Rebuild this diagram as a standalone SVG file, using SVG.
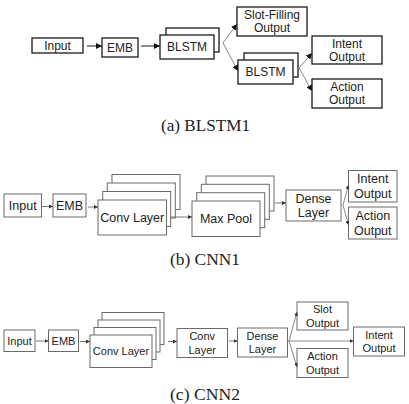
<svg xmlns="http://www.w3.org/2000/svg" width="409" height="404" viewBox="0 0 409 404">
<defs>
<style>
.ba{fill:#fff;stroke:#1a1a1a;stroke-width:1.3}
.bb{fill:#fff;stroke:#6a6a6a;stroke-width:1}
.ta{font-family:"Liberation Sans",Arial,sans-serif;font-size:12px;fill:#222;text-anchor:middle}
.tb{font-family:"Liberation Sans",Arial,sans-serif;font-size:12.5px;fill:#222;text-anchor:middle}
.tc{font-family:"Liberation Sans",Arial,sans-serif;font-size:11px;fill:#222;text-anchor:middle}
.cap{font-family:"Liberation Serif","Times New Roman",serif;font-size:16px;fill:#222;text-anchor:middle}
.la{fill:none;stroke:#1a1a1a;stroke-width:1}
.lg{fill:none;stroke:#888;stroke-width:1}
.lb{fill:none;stroke:#555;stroke-width:0.8}
</style>
<marker id="ah" viewBox="0 0 10 10" refX="10" refY="5" markerWidth="6" markerHeight="6" markerUnits="userSpaceOnUse" orient="auto">
<path d="M0,0 L10,5 L0,10 z" fill="#111"/>
</marker>
<marker id="as" viewBox="0 0 10 10" refX="10" refY="5" markerWidth="4" markerHeight="4" markerUnits="userSpaceOnUse" orient="auto">
<path d="M0,0 L10,5 L0,10 z" fill="#333"/>
</marker>
</defs>

<!-- (a) BLSTM1 -->
<g id="a-input"><rect class="ba" x="32" y="38" width="51" height="15"/><text class="ta" x="57.5" y="49.7">Input</text></g>
<g id="a-emb"><rect class="ba" x="102" y="38" width="36" height="19"/><text class="ta" x="120" y="51.7">EMB</text></g>
<g id="a-blstm1"><rect class="ba" x="166" y="28" width="53" height="24"/><rect class="ba" x="160" y="35" width="54" height="24"/><text class="ta" x="187" y="51.3">BLSTM</text></g>
<g id="a-slot"><rect class="ba" x="237" y="7" width="70" height="29"/><text class="ta" x="272" y="19">Slot-Filling</text><text class="ta" x="272" y="32.3">Output</text></g>
<g id="a-blstm2"><rect class="ba" x="244" y="53" width="54" height="24"/><rect class="ba" x="238" y="60" width="55" height="24"/><text class="ta" x="265.5" y="76.3">BLSTM</text></g>
<g id="a-intent"><rect class="ba" x="312" y="36" width="70" height="28"/><text class="ta" x="347" y="47.7">Intent</text><text class="ta" x="347" y="61">Output</text></g>
<g id="a-action"><rect class="ba" x="312" y="79" width="70" height="29"/><text class="ta" x="347" y="90.7">Action</text><text class="ta" x="347" y="104">Output</text></g>
<g id="a-connectors">
<path class="la" d="M87,46 H102" marker-end="url(#ah)"/>
<path class="la" d="M141,46 H160" marker-end="url(#ah)"/>
<path class="lg" d="M223,43 L237,24" marker-end="url(#ah)"/>
<path class="lg" d="M223,43 L238,71" marker-end="url(#ah)"/>
<path class="lg" d="M299,68 L312,53" marker-end="url(#ah)"/>
<path class="lg" d="M299,68 L312,91" marker-end="url(#ah)"/>
</g>
<text class="cap" x="205.5" y="131" textLength="89" lengthAdjust="spacingAndGlyphs">(a) BLSTM1</text>

<!-- (b) CNN1 -->
<g id="b-input"><rect class="bb" x="4" y="194" width="37.5" height="23"/><text class="tb" x="22.75" y="210">Input</text></g>
<g id="b-emb"><rect class="bb" x="53" y="194" width="33" height="23"/><text class="tb" x="69.5" y="210">EMB</text></g>
<g id="b-conv"><rect class="bb" x="112" y="174.5" width="68" height="35"/><rect class="bb" x="107.3" y="183" width="68" height="35"/><rect class="bb" x="102.7" y="191.5" width="68" height="35"/><rect class="bb" x="98" y="200" width="68.5" height="35"/><text class="tb" x="132.25" y="222">Conv Layer</text></g>
<g id="b-pool"><rect class="bb" x="206" y="176" width="68" height="35"/><rect class="bb" x="201.3" y="184.3" width="68" height="35"/><rect class="bb" x="196.7" y="192.7" width="68" height="35"/><rect class="bb" x="192" y="201" width="68" height="35.5"/><text class="tb" x="226" y="223">Max Pool</text></g>
<g id="b-dense"><rect class="bb" x="286" y="190" width="55" height="31"/><text class="tb" x="313.5" y="203">Dense</text><text class="tb" x="313.5" y="217">Layer</text></g>
<g id="b-intent"><rect class="bb" x="348.5" y="170.5" width="48.5" height="31.5"/><text class="tb" x="372.75" y="183">Intent</text><text class="tb" x="372.75" y="197.5">Output</text></g>
<g id="b-action"><rect class="bb" x="348.5" y="207" width="48.5" height="32"/><text class="tb" x="372.75" y="220">Action</text><text class="tb" x="372.75" y="234.5">Output</text></g>
<g id="b-connectors">
<path class="lb" d="M41.5,206.5 H53" marker-end="url(#as)"/>
<path class="lb" d="M88,207 H98" marker-end="url(#as)"/>
<path class="lb" d="M171,217 H192" marker-end="url(#as)"/>
<path class="lb" d="M275,203 H286" marker-end="url(#as)"/>
<path class="lg" d="M343,205 L348.5,185" marker-end="url(#as)"/>
<path class="lg" d="M343,205 L348.5,225" marker-end="url(#as)"/>
</g>
<text class="cap" x="205" y="265" textLength="70" lengthAdjust="spacingAndGlyphs">(b) CNN1</text>

<!-- (c) CNN2 -->
<g id="c-input"><rect class="bb" x="4" y="330" width="31" height="21.5"/><text class="tc" x="19.5" y="344.7">Input</text></g>
<g id="c-emb"><rect class="bb" x="48.5" y="330" width="30" height="21.5"/><text class="tc" x="63.5" y="344.7">EMB</text></g>
<g id="c-conv"><rect class="bb" x="102" y="312.5" width="62" height="32"/><rect class="bb" x="98" y="320" width="62" height="32"/><rect class="bb" x="94" y="327.5" width="62" height="32"/><rect class="bb" x="90" y="335" width="62" height="32.5"/><text class="tc" x="121" y="355.3">Conv Layer</text></g>
<g id="c-conv2"><rect class="bb" x="177" y="328.5" width="50.5" height="29"/><text class="tc" x="202.25" y="340">Conv</text><text class="tc" x="202.25" y="353.5">Layer</text></g>
<g id="c-dense"><rect class="bb" x="237.5" y="328" width="50" height="29"/><text class="tc" x="262.5" y="339.5">Dense</text><text class="tc" x="262.5" y="353">Layer</text></g>
<g id="c-slot"><rect class="bb" x="297" y="302" width="51" height="28"/><text class="tc" x="322.5" y="313">Slot</text><text class="tc" x="322.5" y="326.5">Output</text></g>
<g id="c-intent"><rect class="bb" x="353.5" y="327" width="51" height="29"/><text class="tc" x="379" y="338.5">Intent</text><text class="tc" x="379" y="352">Output</text></g>
<g id="c-action"><rect class="bb" x="297" y="348.5" width="51" height="29"/><text class="tc" x="322.5" y="360">Action</text><text class="tc" x="322.5" y="373.5">Output</text></g>
<g id="c-connectors">
<path class="lb" d="M36,341 H48.5" marker-end="url(#as)"/>
<path class="lb" d="M80,341.5 H90" marker-end="url(#as)"/>
<path class="lb" d="M168,341.5 H177" marker-end="url(#as)"/>
<path class="lb" d="M229,341 H237.5" marker-end="url(#as)"/>
<path class="lg" d="M287.5,341 H353.5" marker-end="url(#as)"/>
<path class="lg" d="M289,341 L297,312" marker-end="url(#as)"/>
<path class="lg" d="M289,341 L297,367" marker-end="url(#as)"/>
</g>
<text class="cap" x="205" y="400" textLength="70" lengthAdjust="spacingAndGlyphs">(c) CNN2</text>
</svg>
